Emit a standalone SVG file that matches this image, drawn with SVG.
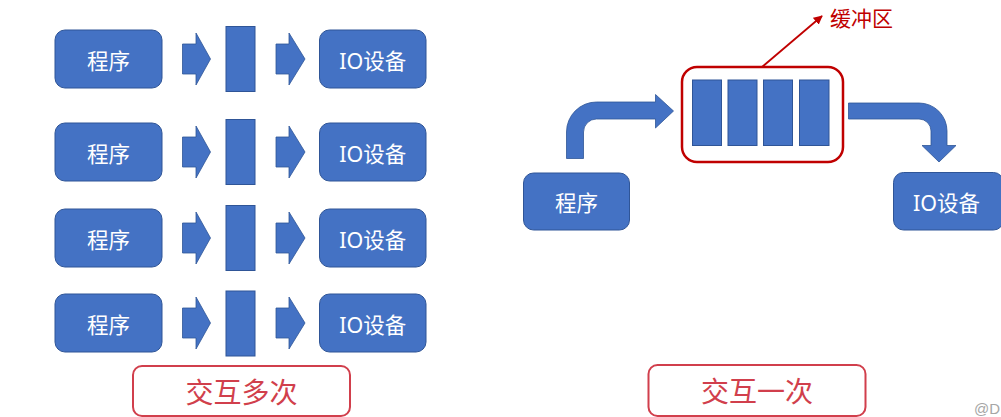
<svg xmlns="http://www.w3.org/2000/svg" width="1001" height="417" viewBox="0 0 1001 417">
<defs>
<style>
.box{fill:#4472C4;stroke:#2F5597;stroke-width:1}
.bar{fill:#4472C4;stroke:#2F5597;stroke-width:1}
.arr{fill:#4472C4;stroke:#2F5597;stroke-width:0.8}
.t{fill:#FFFFFF;font-family:"Noto Sans","Noto Sans CJK SC",sans-serif;font-size:21.5px;text-anchor:middle;dominant-baseline:central}
.lbl{fill:#FFFFFF;stroke:#D13F4C;stroke-width:2}
.lt{fill:#D13F4C;font-family:"Noto Sans CJK SC",sans-serif;font-size:28px;text-anchor:middle;dominant-baseline:central}
.buf{fill:none;stroke:#C00000;stroke-width:2.5}
.bt{fill:#C00000;font-family:"Noto Sans CJK SC",sans-serif;font-size:21px;dominant-baseline:central}
</style>
<marker id="ah" viewBox="0 0 10 10" refX="9" refY="5" markerWidth="5" markerHeight="5" orient="auto">
<path d="M0,0 L10,5 L0,10 Z" fill="#C00000"/>
</marker>
</defs>
<rect width="1001" height="417" fill="#FFFFFF"/>

<g id="row1">
<g id="prog1"><rect class="box" x="55" y="30" width="107" height="58" rx="10"/><text class="t" x="108.5" y="60">程序</text></g>
<g id="bar1"><rect class="bar" x="226" y="26.5" width="29" height="65"/></g>
<g id="io1"><rect class="box" x="319.5" y="30" width="106.5" height="58" rx="10"/><text class="t" x="372.7" y="60">IO设备</text></g>
</g>
<g id="row2">
<g id="prog2"><rect class="box" x="55" y="123" width="107" height="58" rx="10"/><text class="t" x="108.5" y="153">程序</text></g>
<g id="bar2"><rect class="bar" x="226" y="119.5" width="29" height="65"/></g>
<g id="io2"><rect class="box" x="319.5" y="123" width="106.5" height="58" rx="10"/><text class="t" x="372.7" y="153">IO设备</text></g>
</g>
<g id="row3">
<g id="prog3"><rect class="box" x="55" y="209" width="107" height="58" rx="10"/><text class="t" x="108.5" y="239">程序</text></g>
<g id="bar3"><rect class="bar" x="226" y="205.5" width="29" height="65"/></g>
<g id="io3"><rect class="box" x="319.5" y="209" width="106.5" height="58" rx="10"/><text class="t" x="372.7" y="239">IO设备</text></g>
</g>
<g id="row4">
<g id="prog4"><rect class="box" x="55" y="294" width="107" height="58" rx="10"/><text class="t" x="108.5" y="324">程序</text></g>
<g id="bar4"><rect class="bar" x="226" y="291" width="29" height="65"/></g>
<g id="io4"><rect class="box" x="319.5" y="294" width="106.5" height="58" rx="10"/><text class="t" x="372.7" y="324">IO设备</text></g>
</g>

<g id="label-many"><rect class="lbl" x="133" y="366" width="217" height="50" rx="9"/><text class="lt" x="241.5" y="391">交互多次</text></g>

<g id="buffer">
<rect class="buf" x="682" y="67" width="161" height="95" rx="15"/>
<rect class="bar" x="692.5" y="80" width="29" height="65.5"/>
<rect class="bar" x="728" y="80" width="29" height="65.5"/>
<rect class="bar" x="763.5" y="80" width="29" height="65.5"/>
<rect class="bar" x="799.5" y="80" width="29.5" height="65.5"/>
</g>
<g id="buffer-label"><text class="bt" x="830" y="17">缓冲区</text></g>
<g id="prog-r"><rect class="box" x="523.5" y="173" width="106" height="57" rx="10"/><text class="t" x="576.5" y="202.5">程序</text></g>
<g id="io-r"><rect class="box" x="893.5" y="172.5" width="110" height="57.5" rx="10"/><text class="t" x="946.5" y="202">IO设备</text></g>
<g id="label-once"><rect class="lbl" x="648.5" y="365" width="217" height="51" rx="9"/><text class="lt" x="757" y="390">交互一次</text></g>
<text x="974" y="408" fill="#A6A6A6" font-family="Liberation Sans,sans-serif" font-size="15" dominant-baseline="central">@D</text>

<g id="connectors">
<path class="arr" d="M182.5,44 H196 V33 L210.5,59 L196,85 V74 H182.5 Z"/>
<path class="arr" d="M276,44 H289 V33 L305,59 L289,85 V74 H276 Z"/>
<path class="arr" d="M182.5,137 H196 V126 L210.5,152 L196,178 V167 H182.5 Z"/>
<path class="arr" d="M276,137 H289 V126 L305,152 L289,178 V167 H276 Z"/>
<path class="arr" d="M182.5,223 H196 V212 L210.5,238 L196,264 V253 H182.5 Z"/>
<path class="arr" d="M276,223 H289 V212 L305,238 L289,264 V253 H276 Z"/>
<path class="arr" d="M182.5,308 H196 V297 L210.5,323 L196,349 V338 H182.5 Z"/>
<path class="arr" d="M276,308 H289 V297 L305,323 L289,349 V338 H276 Z"/>
<path class="arr" d="M566.5,158.5 V132 A30,30 0 0 1 596.5,102 H655.5 V94.5 L673.5,111 L655.5,128 V119 H596.5 A13,13 0 0 0 583.5,132 V158.5 Z"/>
<path class="arr" d="M848.5,103 H919 A28,28 0 0 1 947,131 V145.5 H956 L939,162 L922,145.5 H931 V131 A12,12 0 0 0 919,119 H848.5 Z"/>
<line x1="762" y1="67" x2="822" y2="16" stroke="#C00000" stroke-width="1.8" marker-end="url(#ah)"/>
</g>
</svg>
